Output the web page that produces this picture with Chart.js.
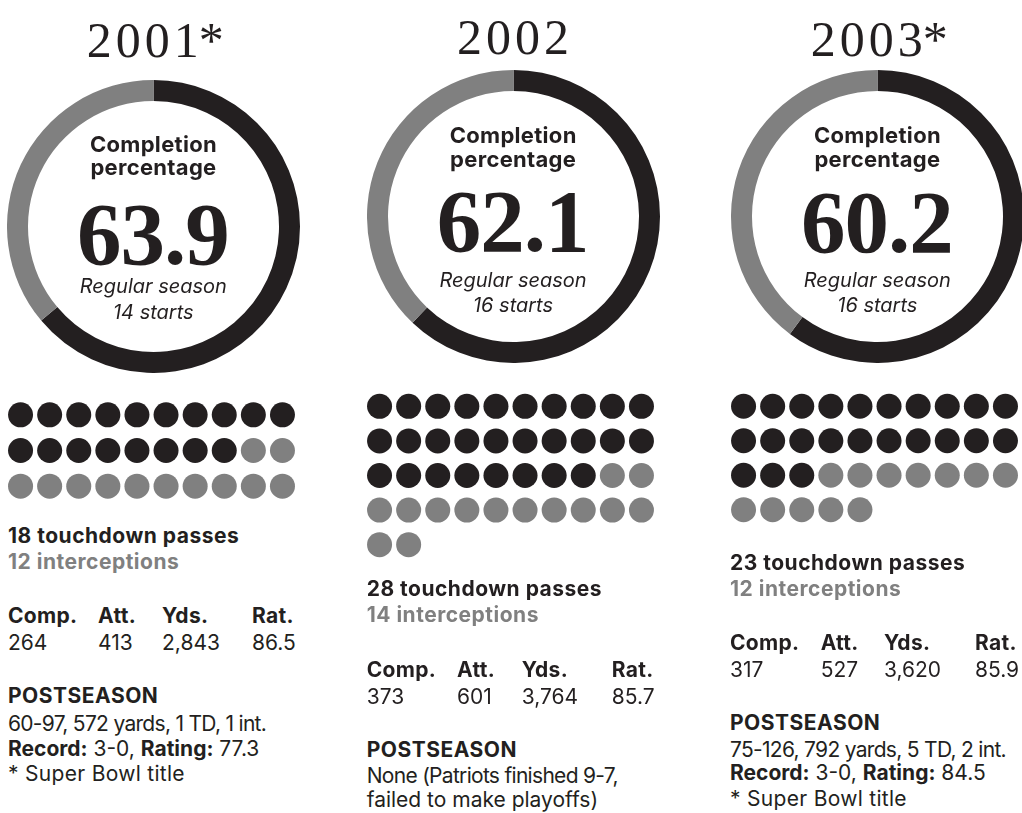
<!DOCTYPE html>
<html>
<head>
<meta charset="utf-8">
<script src="https://cdn.jsdelivr.net/npm/chart.js@4.4.1/dist/chart.umd.min.js"></script>
<style>
  html, body { margin: 0; padding: 0; background: #fff; }
  #page { position: relative; width: 1022px; height: 813px; overflow: hidden; background: #fff; }
  canvas { position: absolute; }
  .t { position: absolute; white-space: nowrap; color: #231f20; }
  .serif { font-family: "Liberation Serif", "Times New Roman", serif; }
  .sans { font-family: "Inter", "Open Sans", sans-serif; }
  .ast { letter-spacing: 0; margin-left: -4px; }
</style>
</head>
<body>
<div id="page"></div>
<script>
// ---------------- DATA ----------------
const seasons = ['2001*', '2002', '2003*'];
const completionPct = [63.9, 62.1, 60.2];
const startsLabels = ['14 starts', '16 starts', '16 starts'];
const tdPasses = [18, 28, 23];
const interceptions = [12, 14, 12];
const statHeaders = ['Comp.', 'Att.', 'Yds.', 'Rat.'];
const compValues = ['264', '373', '317'];
const attValues = ['413', '601', '527'];
const ydsValues = ['2,843', '3,764', '3,620'];
const ratValues = ['86.5', '85.7', '85.9'];
const postLine1 = ['60-97, 572 yards, 1 TD, 1 int.', 'None (Patriots finished 9-7,', '75-126, 792 yards, 5 TD, 2 int.'];
const postLine2 = [null, 'failed to make playoffs)', null];
const postRecord = [['3-0,', '77.3'], null, ['3-0,', '84.5']];
const footnote = ['* Super Bowl title', null, '* Super Bowl title'];

// ---------------- LAYOUT ----------------
const BLACK = '#231f20';
const GRAY = '#808080';
const panels = [
  { cx: 153.3, cy: 226.5, R: 146.5, titleB: 57, compB: 151.7, pctB: 172, numB: 265, regB: 293, startB: 319,
    dotX0: 20.8, dotY0: 414.5, rowGap: 35.8, textX: 8, tdB: 543, intB: 569, hdrB: 623, valB: 650, col: [8, 98, 162, 252],
    postB: 703, l1B: 731, l2B: 756, fnB: 781 },
  { cx: 513, cy: 216, R: 146.5, titleB: 54, compB: 143.3, pctB: 164, numB: 252, regB: 287, startB: 312,
    dotX0: 380, dotY0: 406, rowGap: 34.6, textX: 366.7, tdB: 596, intB: 622, hdrB: 677, valB: 704, col: [366.7, 457, 521.7, 611.7],
    postB: 756.7, l1B: 783, l2B: 807, fnB: null },
  { cx: 877.3, cy: 216.7, R: 146.5, titleB: 56, compB: 143.3, pctB: 164, numB: 253, regB: 287, startB: 312,
    dotX0: 743.2, dotY0: 406.5, rowGap: 34.6, textX: 730, tdB: 570, intB: 596, hdrB: 650, valB: 677, col: [730, 820.7, 884, 975],
    postB: 730, l1B: 756.7, l2B: 780, fnB: 806 }
];
const COL_GAP = 29.1;
const DOT_R = 12.5;
const RING = 21;
const FS = 21;

const page = document.getElementById('page');
const K = { sans: 0.8635, serif: 0.8375 };

function txt(x, baseline, html, opts) {
  const o = Object.assign({ size: 20, family: 'sans', weight: 400, style: 'normal', color: BLACK, align: 'left', ls: 0 }, opts || {});
  const d = document.createElement('div');
  d.className = 't ' + o.family;
  d.innerHTML = html;
  d.style.fontSize = o.size + 'px';
  d.style.lineHeight = o.size + 'px';
  d.style.fontWeight = o.weight;
  d.style.fontStyle = o.style;
  d.style.color = o.color;
  d.style.letterSpacing = o.ls + 'px';
  d.style.top = (baseline - o.size * K[o.family]) + 'px';
  if (o.align === 'center') {
    d.style.left = (x - 300) + 'px';
    d.style.width = '600px';
    d.style.textAlign = 'center';
    if (o.ls) d.style.textIndent = o.ls + 'px';
  } else {
    d.style.left = x + 'px';
  }
  page.appendChild(d);
  return d;
}

function makeCanvas(left, top, w, h) {
  const c = document.createElement('canvas');
  c.width = w; c.height = h;
  c.style.left = left + 'px'; c.style.top = top + 'px';
  c.style.width = w + 'px'; c.style.height = h + 'px';
  page.appendChild(c);
  return c;
}

panels.forEach((p, i) => {
  // ---- Doughnut ----
  const size = Math.round(p.R * 2);
  const dc = makeCanvas(p.cx - size / 2, p.cy - size / 2, size, size);
  new Chart(dc, {
    type: 'doughnut',
    data: {
      labels: ['Completed', 'Incomplete'],
      datasets: [{
        data: [completionPct[i], +(100 - completionPct[i]).toFixed(1)],
        backgroundColor: [BLACK, GRAY],
        borderWidth: 0,
        hoverOffset: 0
      }]
    },
    options: {
      responsive: false, animation: false, devicePixelRatio: 1,
      cutout: size / 2 - RING,
      layout: { padding: 0 },
      plugins: { legend: { display: false }, tooltip: { enabled: false } },
      events: []
    }
  });

  // ---- Dot grid (one dot per TD pass / interception) ----
  const total = tdPasses[i] + interceptions[i];
  const rows = Math.ceil(total / 10);
  const pts = [], colors = [];
  for (let k = 0; k < total; k++) {
    pts.push({ x: k % 10, y: Math.floor(k / 10) });
    colors.push(k < tdPasses[i] ? BLACK : GRAY);
  }
  const gw = Math.round(COL_GAP * 10), gh = Math.round(p.rowGap * rows);
  const gc = makeCanvas(p.dotX0 - COL_GAP / 2, p.dotY0 - p.rowGap / 2, gw, gh);
  new Chart(gc, {
    type: 'scatter',
    data: { datasets: [{ data: pts, pointRadius: DOT_R, pointHoverRadius: DOT_R, pointBackgroundColor: colors, pointBorderWidth: 0, clip: false }] },
    options: {
      responsive: false, animation: false, devicePixelRatio: 1,
      layout: { padding: 0, autoPadding: false },
      scales: {
        x: { type: 'linear', min: -0.5, max: 9.5, display: false },
        y: { type: 'linear', min: -0.5, max: rows - 0.5, reverse: true, display: false }
      },
      plugins: { legend: { display: false }, tooltip: { enabled: false } },
      events: []
    }
  });

  // ---- Texts ----
  const title = seasons[i].replace('*', '<span class="ast">*</span>');
  txt(p.cx, p.titleB, title, { family: 'serif', size: 50, ls: 4, align: 'center' });
  txt(p.cx, p.compB, 'Completion', { size: 22, weight: 700, align: 'center', ls: 0.3 });
  txt(p.cx, p.pctB + 3, 'percentage', { size: 22, weight: 700, align: 'center', ls: 0.3 });
  txt(p.cx, p.numB, completionPct[i].toFixed(1), { family: 'serif', size: 89, weight: 700, ls: -1, align: 'center' });
  txt(p.cx, p.regB, 'Regular season', { size: 20, style: 'italic', align: 'center' });
  txt(p.cx, p.startB, startsLabels[i], { size: 20, style: 'italic', align: 'center' });

  txt(p.textX, p.tdB, tdPasses[i] + ' touchdown passes', { size: FS, weight: 700, ls: 0.5 });
  txt(p.textX, p.intB, interceptions[i] + ' interceptions', { size: FS, weight: 700, color: GRAY, ls: 0.5 });

  statHeaders.forEach((h, j) => txt(p.col[j], p.hdrB, h, { size: FS, weight: 700, ls: 0.3 }));
  [compValues[i], attValues[i], ydsValues[i], ratValues[i]].forEach((v, j) =>
    txt(p.col[j], p.valB, v, { size: FS, weight: 400 }));

  txt(p.textX, p.postB, 'POSTSEASON', { size: FS, weight: 700, ls: 0.5 });
  txt(p.textX, p.l1B, postLine1[i], { size: FS, weight: 400, ls: -0.7 });
  if (postRecord[i]) {
    txt(p.textX, p.l2B, '<b>Record:</b> ' + postRecord[i][0] + ' <b>Rating:</b> ' + postRecord[i][1], { size: FS, weight: 400 });
  } else {
    txt(p.textX, p.l2B, postLine2[i], { size: FS, weight: 400 });
  }
  if (footnote[i]) txt(p.textX, p.fnB, footnote[i], { size: FS, weight: 400, ls: 0.3 });
});
</script>
</body>
</html>
